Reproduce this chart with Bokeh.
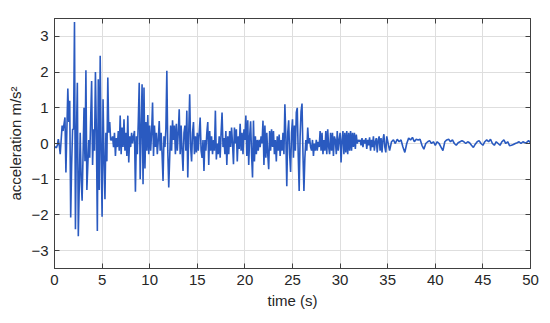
import numpy as np
from bokeh.plotting import figure
from bokeh.models import LinearAxis, FixedTicker
from bokeh.embed import file_html
from bokeh.resources import INLINE

accel_early = [
    -0.08, -0.10, -0.12, -0.05, 0.12, -0.05, -0.30, 0.10, 0.50, 0.35,
    0.55, 0.73, -0.81, 0.40, 1.54, 0.60, 1.20, -2.07, -0.60, 0.40,
    0.40, 3.40, -2.40, 0.20, 1.70, -2.60, -1.20, 0.30, -1.00, -1.60,
    -0.30, 1.00, -0.50, 2.05, -1.30, -0.60, 0.10, -0.40, 0.70, 1.75,
    -0.60, 0.40, -0.20, 2.00, 0.30, -2.45, 1.80, -1.30, 2.46, -0.20,
    -2.05, 1.24, -0.40, -1.56, 0.30, -0.50, 1.85, 0.30, 0.60, 0.10,
    0.10, 0.20, -0.10, 0.30, -0.35, 0.15, -0.10, 0.35, -0.20, 0.78,
    -0.30, 0.45, -0.10, 0.68, -0.20, 0.30, -0.35, 0.78, -0.53, 0.20,
    -0.10, 0.30, 0.00, 0.20, 0.35, -1.35, 0.20, -0.30, 0.60, 1.70,
    -1.00, 0.40, 1.66, -1.14, 1.57, -0.70, 0.60, -0.20, 0.80, -0.30,
    0.50, -0.20, 0.30, 1.15, -0.35, 0.50, -0.10, 0.30, -0.30, 0.10,
    0.63, -0.20, 0.30, -0.30, -1.05, 0.20, -0.10, 0.40, 2.04, -0.20,
    -1.23, -0.40, 0.50, -0.20, 0.65, 0.10, 0.50, -0.30, 0.55, -0.20,
    0.30, 0.96, -0.30, 0.50, -0.20, -0.77, 0.30, 0.50, -0.20, 0.92,
    -0.95, 0.30, 1.38, -0.10, -0.50, 0.30, 0.60, -0.30, 0.20, -0.25,
    0.30, -0.20, 0.30, 0.73, -0.20, -0.40, 0.10, -0.77, 0.10, -0.20,
    0.30, 0.60, -0.60, 0.35, -0.20, 0.20, -0.30, 0.10, -0.20, 0.92,
    -0.45, 0.00, -0.30, 0.20, -0.40, 0.30, 0.87, -0.10, 0.15, -0.30,
    0.35, -0.60, 0.20, -0.30, 0.35, -0.10, 0.45, 0.00, -0.58, 0.45,
    0.00, 0.40, -0.50, 0.20, -0.15, 0.55, -0.20, 0.30, -0.30, 0.40,
    0.10, 0.78, -0.35, 0.65, -0.60, 0.20, 0.62, -0.30, -0.95, 0.64,
    -0.50, 0.20, -0.30, 0.10, -0.20, 0.10, -0.10, 0.20, 0.00, 0.64,
    -0.60, 0.50, -0.40, 0.30, -0.30, -0.72, 0.35, -0.20, 0.40, -0.10,
    0.35, -0.30, 0.10, -0.50, 0.20, -0.20, 0.25, -0.35, 0.10, -0.20,
    0.30, -0.30, 1.10, 0.20, -1.20, 0.30, 0.65, -0.30, -0.80, 0.30,
    0.68, -0.40, 0.50, -0.20, 0.87, 1.00, -0.30, -1.33, 0.20, 0.90,
    1.12, -0.30, -1.33, -0.40, 0.10, -0.20, 0.45, 0.00, 0.15, -0.10,
    -0.20, 0.10, -0.35, 0.00, -0.20, 0.10, -0.20, 0.05, -0.10, 0.35,
    -0.20, 0.30, -0.30, 0.10, -0.20, 0.35, -0.30, 0.40, -0.10, -0.30,
    0.30, -0.20, 0.30, -0.35, 0.20, 0.10, -0.30, 0.35, -0.20, 0.10,
    0.30, -0.53, 0.10, 0.35, -0.30, 0.30, -0.25, 0.35, -0.30, 0.30,
    -0.20, 0.35, -0.20, 0.30, -0.10, 0.30, -0.15, 0.25, 0.00, 0.10,
    0.05, 0.10, -0.05, 0.15, -0.10, 0.10, 0.00, 0.15, -0.15, 0.10,
    -0.05, 0.17, -0.20, 0.10, -0.10, 0.20, -0.20, 0.05, 0.15, -0.25,
    0.10, 0.20, -0.20, 0.15, -0.25, 0.10, 0.26, -0.10, -0.25, 0.20,
]
# acceleration sampled every 0.2 s from 35.2 to 50.0 s
accel_late = [
    -0.20, 0.05, 0.10, 0.00, 0.12, 0.05, 0.10, -0.10, -0.25, 0.00,
    0.15, 0.10, 0.17, 0.05, 0.12, 0.10, 0.12, -0.05, -0.16, 0.00,
    0.05, 0.08, 0.00, 0.05, -0.05, 0.05, 0.00, -0.10, -0.20, 0.05,
    0.10, 0.12, 0.05, 0.10, 0.00, -0.05, 0.02, 0.05, 0.08, 0.05,
    0.00, 0.05, 0.02, -0.05, -0.11, -0.02, 0.05, 0.08, 0.00, -0.05,
    0.05, 0.10, 0.05, 0.12, 0.00, -0.05, 0.05, 0.00, -0.05, 0.05,
    0.10, 0.00, 0.05, -0.06, -0.05, -0.03, 0.00, 0.02, 0.05, 0.00,
    0.05, 0.02, 0.03, 0.08, 0.02,
]
time_early = np.round(np.arange(len(accel_early)) * 0.1, 2)
time_late = np.round(35.2 + np.arange(len(accel_late)) * 0.2, 2)

x_ticks = [0, 5, 10, 15, 20, 25, 30, 35, 40, 45, 50]
y_ticks = [-3, -2, -1, 0, 1, 2, 3]

t = np.concatenate([time_early, time_late])
a = np.array(accel_early + accel_late)

FONT = "Liberation Sans"
DARK = "#262626"
FRAME = "#404040"

p = figure(width=542, height=315, x_range=(0, 50), y_range=(-3.5, 3.5),
           output_backend="svg", toolbar_location=None,
           min_border_left=54, min_border_right=12, min_border_top=18,
           min_border_bottom=47)
p.background_fill_color = "white"
p.border_fill_color = "white"
p.outline_line_color = FRAME
p.outline_line_width = 1

p.line(t, a, line_color="#2a5ac0", line_width=1.6)

for ax in (p.xaxis[0], p.yaxis[0]):
    ax.major_tick_in = 5
    ax.major_tick_out = 0
    ax.minor_tick_line_color = None
    ax.axis_line_color = FRAME
    ax.major_tick_line_color = FRAME
    ax.major_label_text_font = FONT
    ax.major_label_text_font_size = "15px"
    ax.major_label_text_color = DARK
    ax.axis_label_text_font = FONT
    ax.axis_label_text_font_size = "15px"
    ax.axis_label_text_font_style = "normal"
    ax.axis_label_text_color = DARK

p.xaxis.ticker = FixedTicker(ticks=x_ticks)
p.yaxis.ticker = FixedTicker(ticks=y_ticks)
p.xaxis.major_label_standoff = 6
p.yaxis.major_label_standoff = 6
p.xaxis.axis_label = "time (s)"
p.yaxis.axis_label = "acceleration m/s\u00b2"
p.xaxis.axis_label_standoff = 4
p.yaxis.axis_label_standoff = 4

# tick marks only (no labels) on the top and right edges of the box
top = LinearAxis(ticker=FixedTicker(ticks=x_ticks), major_label_text_color=None,
                 major_label_text_font_size="0px",
                 major_tick_in=5, major_tick_out=0, minor_tick_line_color=None,
                 major_label_standoff=0, axis_line_color=FRAME,
                 major_tick_line_color=FRAME)
right = LinearAxis(ticker=FixedTicker(ticks=y_ticks), major_label_text_color=None,
                   major_label_text_font_size="0px",
                   major_tick_in=5, major_tick_out=0, minor_tick_line_color=None,
                   major_label_standoff=0, axis_line_color=FRAME,
                   major_tick_line_color=FRAME)
p.add_layout(top, "above")
p.add_layout(right, "right")

p.grid.grid_line_color = "#dedede"
p.grid.grid_line_width = 1
p.xgrid.ticker = FixedTicker(ticks=x_ticks)
p.ygrid.ticker = FixedTicker(ticks=y_ticks)

open("out.html", "w").write(file_html(p, INLINE))
